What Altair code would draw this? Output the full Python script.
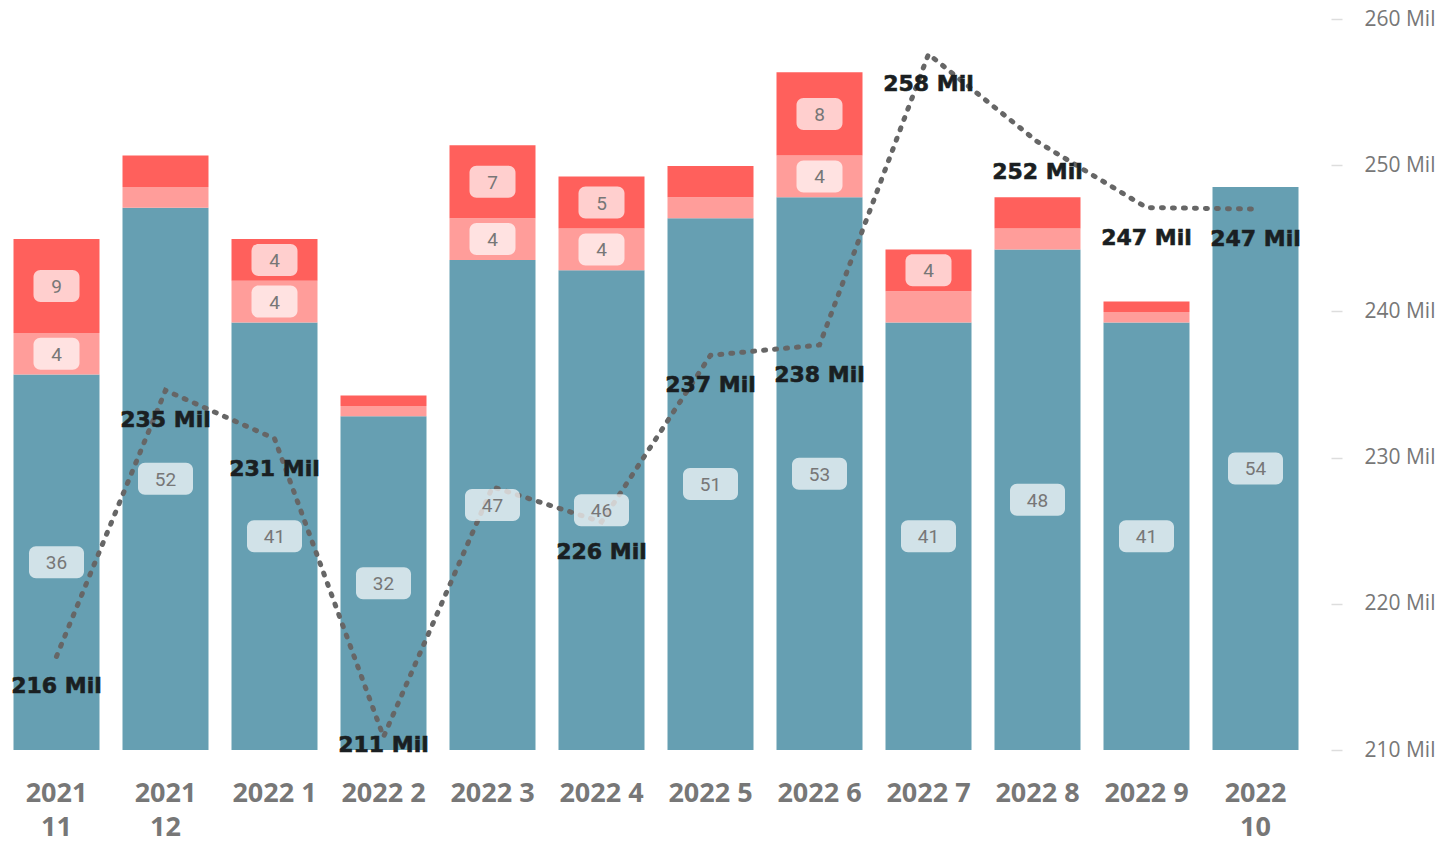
import altair as alt
import pandas as pd

months = ["2021 11", "2021 12", "2022 1", "2022 2", "2022 3", "2022 4",
          "2022 5", "2022 6", "2022 7", "2022 8", "2022 9", "2022 10"]
teal_vals = [36, 52, 41, 32, 47, 46, 51, 53, 41, 48, 41, 54]
pink_vals = [4, 2, 4, 1, 4, 4, 2, 4, 3, 2, 1, 0]
red_vals = [9, 3, 4, 1, 7, 5, 3, 8, 4, 3, 1, 0]
line_vals = [216.4, 234.6, 231.3, 210.9, 228.0, 225.6, 237.0, 237.7, 257.6, 251.6, 247.1, 247.0]
hidden_line_labels = ["2022 3"]

seg_names = ["teal", "pink", "red"]
seg_colors = ["#669FB2", "#FF9D9A", "#FF605C"]

rows = []
for i, m in enumerate(months):
    start = 0
    for s, vals in zip(seg_names, [teal_vals, pink_vals, red_vals]):
        v = vals[i]
        rows.append({"month": m, "seg": s, "value": v, "start": start,
                     "end": start + v, "mid": start + v / 2})
        start += v
bars_df = pd.DataFrame(rows)
line_df = pd.DataFrame({"month": months, "v": line_vals})

x_enc = alt.X("month:N", sort=months,
              scale=alt.Scale(paddingInner=0.211, paddingOuter=0.1055),
              axis=alt.Axis(title=None, labelAngle=0, labelFont="Open Sans",
                            labelFontSize=27, labelFontWeight="bold",
                            labelColor="#777777", ticks=False, domain=False,
                            labelPadding=30, labelLineHeight=34,
                            labelExpr="length(datum.label) > 6 ? split(datum.label, ' ') : datum.label"))

ybar = alt.Scale(domain=[0, 70.1], nice=False, zero=True)

bars = alt.Chart(bars_df).mark_bar().encode(
    x=x_enc,
    y=alt.Y("start:Q", scale=ybar, axis=None),
    y2="end:Q",
    color=alt.Color("seg:N", scale=alt.Scale(domain=seg_names, range=seg_colors), legend=None),
)

badge_base = alt.Chart(bars_df).transform_filter("datum.value >= 4")

badge1 = badge_base.transform_filter("datum.value < 10").mark_bar(
    width=46, cornerRadius=7, yOffset=-16, y2Offset=16, color="white", opacity=0.7
).encode(x=alt.X("month:N", sort=months), y=alt.Y("mid:Q", scale=ybar, axis=None), y2="mid:Q")

badge2 = badge_base.transform_filter("datum.value >= 10").mark_bar(
    width=55, cornerRadius=7, yOffset=-16, y2Offset=16, color="white", opacity=0.7
).encode(x=alt.X("month:N", sort=months), y=alt.Y("mid:Q", scale=ybar, axis=None), y2="mid:Q")

badge_text = badge_base.mark_text(font="Roboto", fontSize=19, color="#777777",
                                  baseline="middle", align="center", dy=1).encode(
    x=alt.X("month:N", sort=months),
    y=alt.Y("mid:Q", scale=ybar, axis=None),
    text="value:Q",
)

yline = alt.Scale(domain=[210, 260], nice=False, zero=False)

line = alt.Chart(line_df).mark_line(
    color="#666666", strokeWidth=5, strokeDash=[2, 9], strokeCap="round"
).encode(
    x=alt.X("month:N", sort=months),
    y=alt.Y("v:Q", scale=yline,
            axis=alt.Axis(orient="right", title=None, grid=False, domain=False,
                          values=[210, 220, 230, 240, 250, 260],
                          tickColor="#DDDDDD", tickSize=11, tickWidth=1.5, offset=21,
                          labelPadding=22, labelFont="Open Sans", labelFontSize=21,
                          labelColor="#777777",
                          labelExpr="datum.value + ' Mil'")),
)

hidden_expr = "indexof([" + ",".join('"' + h + '"' for h in hidden_line_labels) + "], datum.month) < 0"

line_labels = alt.Chart(line_df).transform_filter(hidden_expr).transform_calculate(
    ly="max(datum.v - 2.05, 210.35)",
    lab="format(datum.v, '.0f') + ' Mil'",
).mark_text(font="DejaVu Sans", fontWeight="bold", fontSize=22, color="#1A1F22",
            stroke="#1A1F22", strokeWidth=0.6,
            baseline="middle", align="center").encode(
    x=alt.X("month:N", sort=months),
    y=alt.Y("ly:Q", scale=yline, axis=None),
    text="lab:N",
)

chart = alt.layer(
    bars, line, badge1, badge2, badge_text, line_labels
).resolve_scale(y="independent").properties(
    width=1308, height=731,
    autosize=alt.AutoSizeParams(type="none"),
    padding={"left": 2, "top": 19, "right": 128, "bottom": 92},
    background="white",
).configure_view(stroke=None)

chart.save("out.html", embed_options={"renderer": "svg", "actions": False})
